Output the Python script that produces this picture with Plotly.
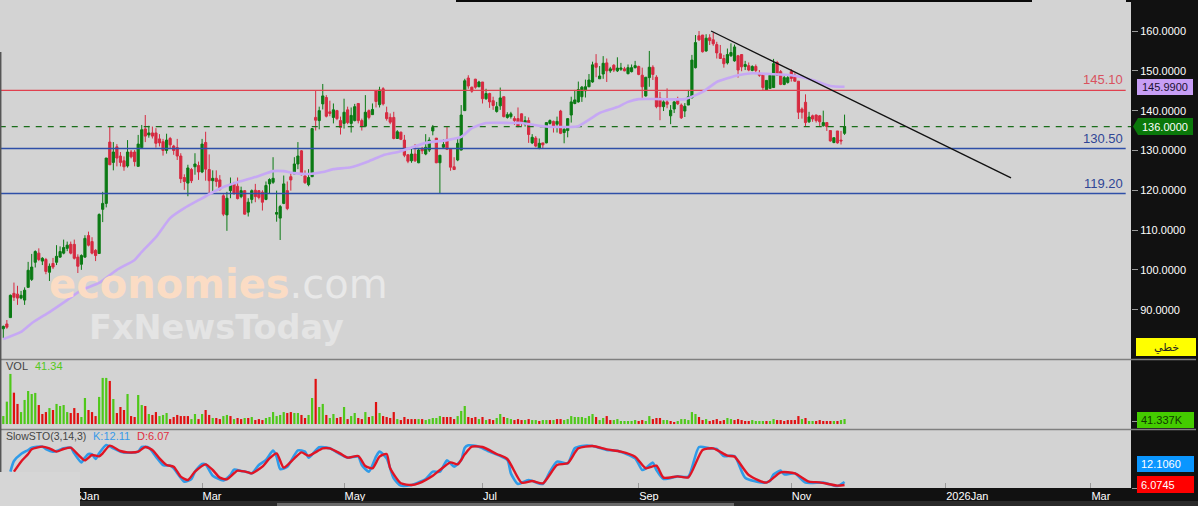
import plotly.graph_objects as go

W, H = 1198, 506
PLOT_W, PLOT_H = 1131, 488

# candles (one value per trading day)
opens = [85.2,86.4,88.0,94.1,93.9,92.9,92.4,95.6,97.6,101.9,
    104.2,102.2,102.6,99.4,101.6,101.9,103.2,104.2,105.4,106.4,
    106.4,103.2,101.4,103.2,108.6,107.1,104.9,104.1,115.2,116.7,
    132.1,127.0,130.9,128.6,127.4,126.1,129.6,129.6,126.0,130.7,
    135.4,133.9,134.4,134.4,132.9,132.2,130.0,133.0,131.1,130.7,
    128.6,123.2,121.8,125.2,125.9,126.2,124.6,132.0,125.2,122.4,
    123.0,122.6,118.6,113.8,119.9,121.7,121.0,118.4,119.9,114.5,
    117.7,120.0,119.9,119.5,117.7,121.6,122.0,114.0,113.0,116.7,
    119.9,123.4,124.1,126.6,129.9,123.6,121.4,123.4,138.3,137.5,
    141.7,143.3,139.7,138.3,140.0,137.5,136.8,140.2,136.8,137.5,
    141.8,137.5,136.1,140.0,139.0,145.0,141.5,145.5,139.5,138.3,
    138.3,133.0,134.6,132.6,128.9,127.4,129.1,126.9,130.5,129.1,
    130.1,134.9,133.1,126.9,130.8,132.8,130.4,125.9,127.6,130.1,
    140.0,148.2,145.9,147.9,146.0,147.2,143.0,144.3,142.5,139.8,
    141.2,143.5,138.3,138.5,138.0,138.0,139.2,136.6,137.5,131.9,
    133.1,130.5,131.9,131.9,136.8,137.3,136.6,139.9,134.5,135.0,
    138.9,141.8,142.2,143.5,145.0,146.0,147.2,151.9,148.0,149.2,
    152.0,150.0,151.4,150.0,150.4,150.5,149.3,149.8,150.8,151.1,
    148.9,143.7,148.3,150.9,148.4,143.2,141.0,142.2,138.7,140.4,
    142.9,141.4,139.9,141.4,143.2,150.8,158.8,159.0,155.0,158.3,
    157.8,156.6,154.3,153.1,152.0,153.8,152.5,153.8,154.1,151.1,
    151.3,150.1,151.1,149.4,149.1,145.2,145.6,145.8,152.1,149.8,
    146.6,147.1,149.8,148.9,147.4,140.4,142.1,137.2,138.7,138.9,
    138.7,136.2,137.0,135.0,132.0,134.9,132.6,134.3]
highs = [86.0,87.4,93.8,96.8,96.0,94.7,95.6,102.0,104.0,104.9,
    105.4,103.2,103.0,101.6,103.0,106.2,105.9,107.6,107.1,107.1,
    107.6,103.9,103.9,108.7,109.6,108.2,105.2,114.2,119.6,128.1,
    135.9,132.1,131.6,129.6,128.5,132.6,130.1,130.1,133.9,136.4,
    138.9,136.2,136.0,135.6,134.1,132.9,134.2,133.4,131.4,132.9,
    129.3,124.0,126.4,125.6,129.3,127.2,132.9,134.7,129.0,125.0,
    125.0,123.8,119.0,119.6,123.2,122.1,123.2,120.9,120.0,118.0,
    120.2,121.6,120.0,120.0,122.2,123.0,128.3,119.9,116.3,123.7,
    122.2,124.4,128.3,132.1,130.1,125.0,125.3,135.5,145.0,141.0,
    146.7,143.9,142.5,141.8,140.2,138.5,143.0,141.0,140.8,141.7,
    141.8,138.0,143.9,140.3,141.8,145.2,146.0,145.9,141.0,139.3,
    139.7,135.1,134.7,133.9,129.1,130.8,131.6,130.4,130.9,134.1,
    133.3,136.4,133.1,128.8,132.8,136.0,130.4,128.3,133.3,141.4,
    148.0,148.9,146.0,148.0,147.5,147.2,145.5,144.5,143.5,142.2,
    145.8,143.5,139.6,139.7,138.6,140.8,139.3,138.6,138.3,134.1,
    133.6,133.0,131.9,137.0,137.8,137.5,138.5,140.2,136.0,138.0,
    143.5,145.2,147.3,146.2,147.8,149.2,152.3,154.2,151.2,153.7,
    153.1,151.0,151.7,153.4,152.0,151.0,151.6,151.6,152.5,151.3,
    150.8,148.4,155.0,151.4,148.9,144.7,142.9,145.6,141.4,142.4,
    143.5,141.8,141.9,145.2,154.0,159.0,160.0,159.0,159.2,159.2,
    159.5,157.3,156.5,154.0,155.6,156.9,156.6,154.0,154.1,152.5,
    152.1,151.4,151.6,150.2,149.1,147.6,148.9,153.0,152.5,150.2,
    148.9,148.9,150.4,149.4,147.4,140.8,144.1,139.7,139.0,139.0,
    138.9,140.0,137.0,135.0,133.2,134.9,134.9,139.0]
lows = [82.9,85.2,88.0,92.2,91.2,92.6,91.2,95.6,97.2,100.6,
    102.2,101.2,98.9,97.2,100.2,101.2,103.0,103.9,104.7,103.9,
    102.6,99.2,100.0,103.0,105.9,103.9,102.2,104.1,112.0,115.7,
    126.4,125.0,126.0,126.0,124.9,125.7,128.0,126.0,126.0,130.6,
    132.1,133.2,133.0,130.7,131.0,128.7,129.2,130.6,128.9,127.6,
    121.8,120.1,118.5,121.8,123.9,122.6,124.3,122.4,119.2,119.8,
    120.9,119.9,113.5,109.8,118.0,118.8,117.7,118.0,113.9,113.4,
    116.7,117.0,117.7,114.9,117.5,119.2,121.6,112.1,107.5,116.5,
    115.0,119.9,124.1,125.3,123.7,121.6,121.0,123.4,135.0,135.3,
    140.3,138.3,138.6,136.8,137.6,134.0,135.5,136.6,134.5,137.3,
    136.8,135.0,136.1,137.8,139.0,140.8,140.8,141.3,137.5,136.6,
    132.8,133.0,132.6,128.3,126.8,126.9,127.1,126.8,129.1,128.8,
    129.6,133.8,126.8,119.2,130.6,130.1,124.9,125.1,127.3,130.0,
    140.0,145.5,144.5,145.5,145.9,141.8,142.7,140.7,140.2,139.5,
    140.2,138.3,138.0,138.0,136.4,135.8,136.1,136.0,131.9,131.6,
    130.8,130.3,130.6,131.8,136.5,134.5,134.5,134.1,131.8,133.3,
    137.0,141.6,142.0,142.2,143.3,145.9,147.0,148.4,148.0,148.0,
    147.2,149.5,149.7,149.7,150.0,149.9,149.1,149.6,150.6,148.9,
    143.2,143.5,146.0,147.7,140.6,137.6,139.9,140.6,136.6,139.4,
    141.4,137.9,138.4,141.4,143.2,150.6,157.5,154.6,154.8,156.5,
    156.3,153.1,153.0,150.8,151.6,153.5,152.3,148.3,149.9,150.2,
    149.9,149.9,149.6,148.5,145.1,145.1,145.6,145.7,148.8,146.4,
    146.4,146.8,147.3,147.3,137.9,138.0,136.0,136.9,137.2,137.0,
    136.0,136.0,134.9,132.2,131.8,131.7,131.5,133.9]
closes = [85.8,85.6,93.6,93.1,92.9,93.6,94.9,99.9,100.7,104.6,
    102.6,102.9,99.6,100.9,100.7,103.4,104.6,105.6,106.2,104.2,
    102.9,100.9,103.6,107.9,106.2,104.2,103.6,113.9,116.7,128.1,
    126.4,129.6,128.1,127.0,125.9,129.6,128.4,127.2,131.6,135.2,
    133.6,134.4,133.6,131.8,131.9,130.0,132.6,131.4,130.0,128.6,
    122.9,122.2,125.6,122.4,126.6,124.6,131.6,125.3,122.4,123.0,
    122.2,120.2,114.0,118.0,121.5,119.2,117.9,119.9,114.0,117.0,
    119.9,118.4,118.2,117.0,121.2,122.7,123.0,114.4,115.9,121.6,
    115.4,122.6,126.6,128.6,123.9,121.9,123.2,135.5,137.6,140.0,
    143.7,138.6,139.3,140.2,138.0,135.8,139.6,137.0,138.8,141.0,
    137.5,136.0,139.6,138.3,140.3,142.3,145.2,141.7,138.0,137.1,
    133.0,134.7,132.8,128.8,127.3,129.1,127.4,130.1,129.9,130.8,
    132.6,135.8,126.9,128.8,131.5,130.3,125.8,125.2,131.8,138.9,
    147.5,146.2,144.9,145.9,147.2,143.0,144.3,142.2,141.3,141.0,
    143.2,138.5,139.0,139.2,137.5,136.1,137.0,137.5,134.0,133.3,
    131.1,131.8,131.4,137.0,137.5,136.0,137.3,134.3,135.3,138.0,
    142.2,142.7,145.3,145.9,146.0,147.7,151.5,150.9,148.7,151.9,
    150.0,150.5,150.2,150.7,150.7,150.0,150.8,150.8,151.3,149.1,
    146.0,148.4,150.9,149.1,141.0,141.0,142.2,141.6,140.1,142.2,
    141.7,138.2,141.1,143.5,152.7,157.1,157.8,154.8,158.2,157.6,
    156.8,154.5,153.1,151.8,154.1,154.6,156.0,150.2,151.0,151.6,
    150.2,151.1,150.1,148.9,145.8,147.6,148.9,151.8,148.9,146.6,
    148.3,148.3,148.1,147.4,139.6,139.6,137.0,138.4,137.9,137.5,
    137.2,137.0,136.0,132.4,133.2,131.9,132.4,136.0]
bars = list(range(len(closes)))

# volume in thousands, and the colour of each volume bar
volumes = [66,185,414,259,166,99,199,273,248,257,
    157,83,99,132,116,166,149,157,99,91,
    132,91,58,215,116,99,66,224,381,381,
    356,207,91,141,116,248,66,58,240,157,
    149,83,75,99,66,75,91,41,58,75,
    66,66,66,41,83,41,83,116,75,50,
    50,41,66,75,66,41,50,41,50,50,
    58,33,41,33,50,58,99,66,75,99,
    91,99,91,91,75,50,75,215,373,141,
    166,75,50,83,50,58,141,41,66,91,
    50,41,99,58,66,182,91,66,58,50,
    99,41,33,58,41,41,41,41,41,33,
    41,50,50,66,58,58,58,
    41,66,108,149,58,50,58,41,58,33,
    41,33,50,83,58,50,41,33,41,33,
    33,41,33,33,25,33,33,33,33,41,
    41,33,41,66,58,58,58,50,66,83,
    58,33,50,66,33,33,41,25,25,25,
    25,33,25,33,25,66,41,50,50,33,
    33,25,17,25,41,41,33,99,83,58,
    33,41,25,33,41,25,33,50,41,33,
    41,33,25,25,33,25,25,25,25,25,
    41,33,33,25,33,33,33,66,41,50,
    25,25,25,33,25,25,25,25,25,33,41.337]
vol_dirs = ("GGGRRGGGGG" "RRRGRGGGGR" "RRGGRRRGGG" "RGRRRGRRGG" "RGRRGGGRRR"
    "RRRGGRGRRG" "RRGGRGRRGR" "GRRRGGGGGG" "RRGGRRGGRG" "GRGGRRGRGG"
    "RRGRGRGRRR" "RGRRRRRGRG" "GGGGRRR"
    "RGGGRRRGRG" "RRGGRGGRRR" "GRGGRGGRGR" "RGGGGGGGGG" "RGGRRGGGGG"
    "GGRRGGRRRG" "GRRGGGGGGR" "RGRRRRRGGR" "RRRRGGGGRG" "GRRRRRRRGR"
    "GGRRRRRGRGG")

# moving average, read at selected bars
ma_bars = [0,5,8,13,18,22,27,32,37,39,43,47,51,55,58,62,66,71,76,79,82,86,90,93,98,
    103,107,112,119,125,129,132,136,143,146,152,159,162,168,173,176,179,185,192,
    197,201,207,211,216,222,228,233,237]
ma_vals = [82.6,84.4,86.6,89.4,92.4,94.9,96.7,100.0,102.5,104.5,108.2,113.0,115.5,117.5,
    119.0,120.8,122.0,123.3,124.8,124.8,124.3,124.1,124.6,125.3,125.8,127.3,128.8,129.8,
    131.9,132.6,133.4,135.6,136.9,136.9,136.9,136.1,135.9,136.1,139.4,140.9,142.2,142.9,
    142.9,142.9,144.7,147.2,148.9,149.4,149.2,148.9,147.7,146.2,145.99]

# slow stochastic, read at selected bars
k_bars = [2,3,5,7,8,11,12,14,15,17,19,20,22,23,24,25,26,27,29,31,33,35,38,39,41,43,45,47,48,
    51,53,54,56,57,59,62,64,65,67,69,70,72,74,76,77,78,80,83,85,86,89,92,94,97,100,101,103,
    105,106,108,110,112,115,117,119,121,123,125,126,127,129,130,131,134,137,142,143,145,148,
    152,154,156,159,161,163,166,170,173,178,180,181,183,184,186,190,193,196,199,201,203,206,
    209,214,216,217,219,220,223,226,231,235,237]
k_vals = [32.7,54,68,76,80.7,82.7,78,72.7,74,79.3,80.7,69.3,51.3,60.7,68,67.3,58,69.3,86,79.3,
    72.7,70.7,72.7,82,80.7,62.7,46,44.7,39.3,12.7,18,32.7,48,47.3,24.7,15.3,26,36.7,34,31.3,
    29.3,46,56,74.7,62.7,38,42.7,75.3,72.7,60.7,81.3,79.3,71.3,60.7,62.7,46,32.7,62.7,72.7,
    59.3,19.3,4.7,6,11.3,18,32.7,32.7,55.3,49.3,42.7,56,80.7,85.3,82.7,72.7,56,29.3,8,16,8,
    32.7,52.7,49.3,79.3,84,84,76,74.7,59.3,36,39.3,50.7,36,18,23.3,22.7,82,79.3,78,64,64,
    20.7,10.7,14,27.3,34.7,27.3,29.3,10.7,10.7,4,12.11]
d_bars = [3,5,7,8,11,13,15,17,19,21,23,25,27,28,30,33,35,38,40,42,44,46,48,50,52,54,57,59,61,
    63,66,69,70,73,75,77,79,82,84,86,90,92,95,97,100,102,104,106,108,109,112,115,117,121,123,
    126,128,130,132,135,139,142,146,149,152,156,159,162,166,170,174,178,181,184,186,190,193,
    197,200,204,206,210,215,219,223,227,230,235,237]
d_vals = [32.7,52.7,68,77.3,82.7,79.3,72.7,78,80.7,67.3,55.3,66,63.3,69.3,84.7,74,71.3,72.7,82,
    76,59.3,46,42.7,22.7,16,32.7,47.3,36,20.7,17.3,34.7,31.3,29.3,42.7,59.3,69.3,40.7,59.3,
    71.3,64.7,79.3,79.3,68.7,60.7,64,44,39.3,62.7,68,39.3,9.3,6,9.3,24.7,36,51.3,47.3,67.3,
    82.7,82,68,58,10.7,14,9.3,46,49.3,79.3,84,77.3,72.7,62.7,39.3,44.7,20.7,23.3,21.3,76,
    79.3,64.7,62.7,26,10.7,31.3,29.3,12.7,11.3,4.7,6.07]

# drawn trend line
trend_bars = [199.4, 283.9]
trend_vals = [160, 123.1]

# horizontal levels
last_price = 136.0
level_red = 145.10
level_blue = [130.50, 119.20]
line_end = 316.2

price_ticks = [90, 100, 110, 120, 130, 140, 150, 160]
date_ticks = [15, 56, 96, 135, 179, 222, 265.5, 306.4]
date_labels = ["2025Jan", "Mar", "May", "Jul", "Sep", "Nov", "2026Jan", "Mar"]

TEXT = "Liberation Sans"
BG = "#d3d3d3"
PANEL = "#111111"


def px(x):
    return x / PLOT_W


def py(y):
    return (PLOT_H - y) / PLOT_H


fig = go.Figure()

# price pane
fig.add_trace(go.Scatter(x=[-1, line_end], y=[level_red, level_red], mode="lines",
                         line=dict(color="#e0404e", width=1.2)))
for lv in level_blue:
    fig.add_trace(go.Scatter(x=[-1, line_end], y=[lv, lv], mode="lines",
                             line=dict(color="#2f4fa8", width=1.5)))
fig.add_trace(go.Scatter(x=[-1, 318], y=[last_price, last_price], mode="lines",
                         line=dict(color="#1b6e1b", width=1.2, dash="6px,6px")))
fig.add_trace(go.Scatter(x=ma_bars, y=ma_vals, mode="lines",
                         line=dict(color="#c6a8f4", width=2.6, shape="spline", smoothing=0.5)))
fig.add_trace(go.Candlestick(x=bars, open=opens, high=highs, low=lows, close=closes,
                             increasing=dict(line=dict(color="#0b7a14", width=1), fillcolor="#0b7a14"),
                             decreasing=dict(line=dict(color="#d62a40", width=1), fillcolor="#d62a40"),
                             whiskerwidth=0))
fig.add_trace(go.Scatter(x=trend_bars, y=trend_vals, mode="lines",
                         line=dict(color="#111111", width=1.3)))

# volume pane
vol_colors = ["#4fc81a" if d == "G" else "#e01010" for d in vol_dirs]
fig.add_trace(go.Bar(x=bars, y=volumes, marker=dict(color=vol_colors, line=dict(width=0)),
                     width=0.62, yaxis="y2"))

# stochastic pane
fig.add_trace(go.Scatter(x=k_bars, y=k_vals, mode="lines", yaxis="y3",
                         line=dict(color="#2f9be8", width=2.6, shape="spline", smoothing=0.6)))
fig.add_trace(go.Scatter(x=d_bars, y=d_vals, mode="lines", yaxis="y3",
                         line=dict(color="#e01424", width=2.4, shape="spline", smoothing=0.6)))

shapes = [
    dict(type="line", xref="paper", yref="paper", x0=0, x1=px(1196), y0=py(359.5), y1=py(359.5),
         line=dict(color="#7f7f7f", width=1.3), layer="above"),
    dict(type="line", xref="paper", yref="paper", x0=0, x1=px(1196), y0=py(429.5), y1=py(429.5),
         line=dict(color="#7f7f7f", width=1.3), layer="above"),
    dict(type="line", xref="paper", yref="paper", x0=px(0.7), x1=px(0.7), y0=py(52), y1=py(472),
         line=dict(color="#555555", width=1.5), layer="above"),
    # black strips along the top edge
    dict(type="rect", xref="paper", yref="paper", x0=px(456), x1=px(1032), y0=py(2), y1=py(0),
         fillcolor="#0a0a0a", line_width=0, layer="above"),
    dict(type="rect", xref="paper", yref="paper", x0=px(1126), x1=px(1131), y0=py(2), y1=py(0),
         fillcolor="#0a0a0a", line_width=0, layer="above"),
    # grey box over the lower left corner
    dict(type="rect", xref="paper", yref="paper", x0=0, x1=px(80), y0=py(506), y1=py(472),
         fillcolor="#d6d6d6", line_width=0, layer="above"),
    # scroll bar at the bottom
    dict(type="rect", xref="paper", yref="paper", x0=px(80), x1=px(1198), y0=py(506), y1=py(501),
         fillcolor="#2a2a2a", line_width=0, layer="above"),
    dict(type="rect", xref="paper", yref="paper", x0=px(277), x1=px(734), y0=py(506), y1=py(503),
         fillcolor="#6a6a6a", line_width=0, layer="above"),
    # right panel tags
    dict(type="rect", xref="paper", yref="paper", x0=px(1137), x1=px(1193), y0=py(95), y1=py(79),
         fillcolor="#c79ef5", line_width=0, layer="above"),
    dict(type="path", xref="paper", yref="paper",
         path=f"M {px(1133)} {py(126.5)} L {px(1138)} {py(118)} L {px(1193)} {py(118)} "
              f"L {px(1193)} {py(135)} L {px(1138)} {py(135)} Z",
         fillcolor="#0a780a", line_width=0, layer="above"),
    dict(type="rect", xref="paper", yref="paper", x0=px(1136), x1=px(1196), y0=py(356), y1=py(338),
         fillcolor="#ffff00", line_width=0, layer="above"),
    dict(type="rect", xref="paper", yref="paper", x0=px(1137), x1=px(1194), y0=py(428), y1=py(412),
         fillcolor="#44cc00", line_width=0, layer="above"),
    dict(type="rect", xref="paper", yref="paper", x0=px(1137), x1=px(1194), y0=py(472), y1=py(456),
         fillcolor="#0a96ff", line_width=0, layer="above"),
    dict(type="rect", xref="paper", yref="paper", x0=px(1137), x1=px(1194), y0=py(493), y1=py(476),
         fillcolor="#ff0000", line_width=0, layer="above"),
]


def note(x, y, text, color, size=11, xanchor="left", family=TEXT, yanchor="middle"):
    return dict(xref="paper", yref="paper", x=px(x), y=py(y), text=text, showarrow=False,
                xanchor=xanchor, yanchor=yanchor, align="left",
                font=dict(family=family, size=size, color=color), borderpad=0, borderwidth=0)


annotations = [
    # level labels
    note(1123, 79, f"{level_red:.2f}", "#d9525f", size=13, xanchor="right"),
    note(1123, 138, f"{level_blue[0]:.2f}", "#2f4696", size=13, xanchor="right"),
    note(1123, 183, f"{level_blue[1]:.2f}", "#2f4696", size=13, xanchor="right"),
    # tags
    note(1165, 87, "145.9900", "#1a1030", xanchor="center"),
    note(1165, 126.5, "136.0000", "#ffffff", xanchor="center"),
    note(1166, 347, "خطي", "#222222", family="DejaVu Sans", xanchor="center"),
    note(1141, 420, "41.337K", "#103a00"),
    note(1141, 464, "12.1060", "#ffffff"),
    note(1141, 484.5, "6.0745", "#ffffff"),
    # pane labels
    note(6, 366, "VOL", "#444444"),
    note(35, 366, "41.34", "#55c820"),
    note(6, 436, "SlowSTO(3,14,3)", "#444444", size=10.5),
    note(93, 436, "K:12.11", "#3a9ae8"),
    note(137, 436, "D:6.07", "#e03040"),
    # watermark
    note(49, 284,
         "<span style='color:#fbdcc4'><b>economies</b></span><span style='color:#e8e8e8'>.com</span>",
         "#fbdcc4", size=40, family="DejaVu Sans"),
    note(89, 327, "<b>FxNewsToday</b>", "#e4e4e4", size=33.5, family="DejaVu Sans"),
]

fig.update_layout(
    width=W, height=H, showlegend=False, hovermode=False,
    paper_bgcolor=PANEL, plot_bgcolor=BG,
    margin=dict(l=0, r=W - PLOT_W, t=0, b=H - PLOT_H, pad=0),
    font=dict(family=TEXT, size=11, color="#ffffff"),
    boxgap=0.12,
    xaxis=dict(domain=[0, 1], range=[-0.93, 317.7], anchor="y3", rangeslider=dict(visible=False),
               showgrid=False, zeroline=False, showline=False,
               tickmode="array", tickvals=date_ticks, ticktext=date_labels,
               ticks="inside", ticklen=5, tickwidth=1, tickcolor="#9a9a9a",
               ticklabelposition="outside right",
               tickfont=dict(family=TEXT, size=11, color="#ffffff")),
    yaxis=dict(domain=[py(359), 1], range=[77.6, 167.8], side="right", anchor="x",
               showgrid=False, zeroline=False, showline=False,
               tickmode="array", tickvals=price_ticks, ticktext=[f"{v:.4f}" for v in price_ticks],
               ticks="outside", ticklen=6, tickwidth=1, tickcolor="#9a9a9a",
               tickfont=dict(family=TEXT, size=11, color="#ffffff")),
    yaxis2=dict(domain=[py(429), py(360)], range=[-41, 529], side="right", anchor="x",
                showgrid=False, zeroline=False, showline=False,
                tickmode="array", tickvals=[17], ticktext=[""],
                ticks="outside", ticklen=6, tickwidth=1, tickcolor="#9a9a9a"),
    yaxis3=dict(domain=[0, py(430)], range=[0, 116], side="right", anchor="x",
                showgrid=False, zeroline=False, showline=False,
                tickmode="array", tickvals=[0], ticktext=[""],
                ticks="outside", ticklen=6, tickwidth=1, tickcolor="#9a9a9a"),
    shapes=shapes,
    annotations=annotations,
)

fig.write_html("out.html", config={"displayModeBar": False},
               post_script="document.body.style.margin='0';")
